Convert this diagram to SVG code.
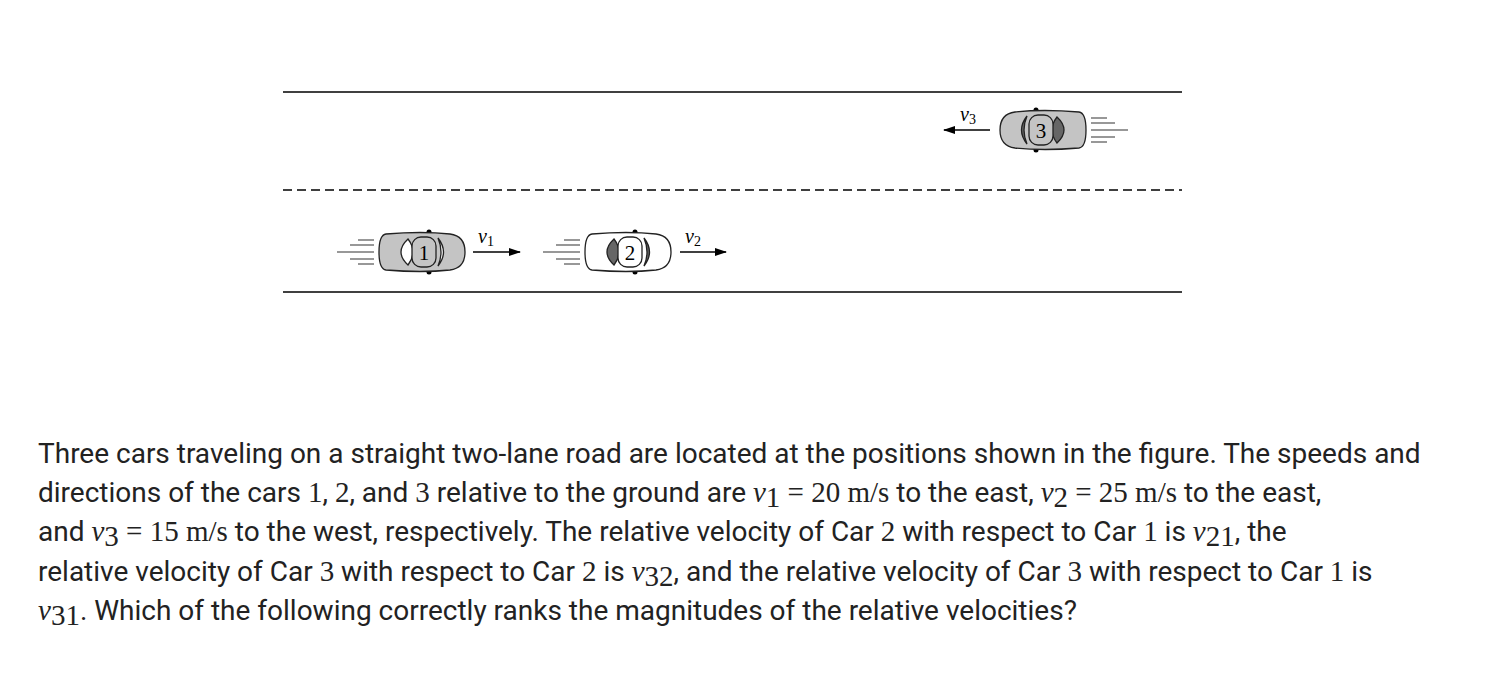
<svg xmlns="http://www.w3.org/2000/svg" width="1498" height="686" viewBox="0 0 1498 686">
<style>
.road{stroke:#000;stroke-width:1.5;fill:none}
.b{stroke:#222;stroke-width:1.3}
.sp{stroke:#333;stroke-width:1.2}
.lab{font-family:"Liberation Serif",serif;font-style:italic;font-size:20px}
.sub{font-size:14px;font-style:normal}
.num{font-family:"Liberation Serif",serif;font-size:21px}
.t{font-family:Roboto,"Liberation Sans",sans-serif;font-size:28px;fill:#222}
.m{font-family:"Liberation Serif",serif;font-size:29px}
.mi{font-family:"Liberation Serif",serif;font-size:29px;font-style:italic}
</style>
<defs>
<marker id="ah" markerWidth="12" markerHeight="8" refX="11" refY="4" orient="auto" markerUnits="userSpaceOnUse"><path d="M0,0 L12,4 L0,8 Z" fill="#000"/></marker>
</defs>
<g id="road"><line class="road" x1="283" y1="92" x2="1182" y2="92"/><line class="road" x1="283" y1="292" x2="1182" y2="292"/><line class="road" x1="283" y1="190" x2="1182" y2="190" stroke-dasharray="9,5"/></g>
<g id="car1" transform="translate(422,252)">
<path class="sp" fill="none" d="M-85,0H-48M-72,-7H-48M-72,7H-48M-64,-12H-48M-64,12H-48"/>
<circle cx="7" cy="-20" r="2.5"/><circle cx="7" cy="20" r="2.5"/>
<path class="b" fill="#c4c4c4" d="M-36,-18 Q-43,-17 -43,0 Q-43,17 -36,18 Q0,21 28,18 Q43,16 43,0 Q43,-16 28,-18 Q0,-21 -36,-18Z"/>
<path class="b" fill="#fff" d="M-14,-13 Q-28,0 -14,13 Q-4,0 -14,-13Z"/>
<rect class="b" x="-10" y="-15" width="24" height="30" rx="9" fill="#c4c4c4"/>
<path class="b" fill="#fff" d="M16,-14 Q27,0 16,14 Q22,0 16,-14Z"/>
<text class="num" x="2" y="8" text-anchor="middle">1</text>
</g>
<g id="car2" transform="translate(628,252)">
<path class="sp" fill="none" d="M-85,0H-48M-72,-7H-48M-72,7H-48M-64,-12H-48M-64,12H-48"/>
<circle cx="7" cy="-20" r="2.5"/><circle cx="7" cy="20" r="2.5"/>
<path class="b" fill="#fff" d="M-36,-18 Q-43,-17 -43,0 Q-43,17 -36,18 Q0,21 28,18 Q43,16 43,0 Q43,-16 28,-18 Q0,-21 -36,-18Z"/>
<path class="b" fill="#666" d="M-14,-13 Q-28,0 -14,13 Q-4,0 -14,-13Z"/>
<rect class="b" x="-10" y="-15" width="24" height="30" rx="9" fill="#fff"/>
<path class="b" fill="#666" d="M16,-14 Q27,0 16,14 Q22,0 16,-14Z"/>
<text class="num" x="2" y="8" text-anchor="middle">2</text>
</g>
<g id="car3" transform="translate(1043,130)">
<g transform="scale(-1,1)">
<path class="sp" fill="none" d="M-85,0H-48M-72,-7H-48M-72,7H-48M-64,-12H-48M-64,12H-48"/>
<circle cx="7" cy="-20" r="2.5"/><circle cx="7" cy="20" r="2.5"/>
<path class="b" fill="#c4c4c4" d="M-36,-18 Q-43,-17 -43,0 Q-43,17 -36,18 Q0,21 28,18 Q43,16 43,0 Q43,-16 28,-18 Q0,-21 -36,-18Z"/>
<path class="b" fill="#666" d="M-14,-13 Q-28,0 -14,13 Q-4,0 -14,-13Z"/>
<rect class="b" x="-10" y="-15" width="24" height="30" rx="9" fill="#c4c4c4"/>
<path class="b" fill="#666" d="M16,-14 Q27,0 16,14 Q22,0 16,-14Z"/>
</g>
<text class="num" x="-2" y="8" text-anchor="middle">3</text>
</g>
<g id="connectors" stroke="#000" stroke-width="1.5">
<line x1="473" y1="252" x2="520" y2="252" marker-end="url(#ah)"/>
<line x1="680" y1="252" x2="726" y2="252" marker-end="url(#ah)"/>
<line x1="990" y1="130" x2="944" y2="130" marker-end="url(#ah)"/>
</g>
<g id="labels">
<text class="lab" x="478" y="243">v<tspan class="sub" dy="3">1</tspan></text>
<text class="lab" x="685" y="243">v<tspan class="sub" dy="3">2</tspan></text>
<text class="lab" x="960" y="121">v<tspan class="sub" dy="3">3</tspan></text>
</g>
<g id="text">
<text class="t" x="38" y="463">Three cars traveling on a straight two-lane road are located at the positions shown in the figure. The speeds and</text>
<text class="t" x="38" y="502">directions of the cars <tspan class="m">1</tspan>, <tspan class="m">2</tspan>, and <tspan class="m">3</tspan> relative to the ground are <tspan class="mi">v</tspan><tspan class="m" font-size="20" dy="5">1</tspan><tspan class="m" dy="-5"> = 20 m/s</tspan> to the east, <tspan class="mi">v</tspan><tspan class="m" font-size="20" dy="5">2</tspan><tspan class="m" dy="-5"> = 25 m/s</tspan> to the east,</text>
<text class="t" x="38" y="541">and <tspan class="mi">v</tspan><tspan class="m" font-size="20" dy="5">3</tspan><tspan class="m" dy="-5"> = 15 m/s</tspan> to the west, respectively. The relative velocity of Car <tspan class="m">2</tspan> with respect to Car <tspan class="m">1</tspan> is <tspan class="mi">v</tspan><tspan class="m" font-size="20" dy="5">21</tspan><tspan dy="-5">, the</tspan></text>
<text class="t" x="38" y="581">relative velocity of Car <tspan class="m">3</tspan> with respect to Car <tspan class="m">2</tspan> is <tspan class="mi">v</tspan><tspan class="m" font-size="20" dy="5">32</tspan><tspan dy="-5">, and the relative velocity of Car </tspan><tspan class="m">3</tspan> with respect to Car <tspan class="m">1</tspan> is</text>
<text class="t" x="38" y="620"><tspan class="mi">v</tspan><tspan class="m" font-size="20" dy="5">31</tspan><tspan dy="-5">. Which of the following correctly ranks the magnitudes of the relative velocities?</tspan></text>
</g>
</svg>
